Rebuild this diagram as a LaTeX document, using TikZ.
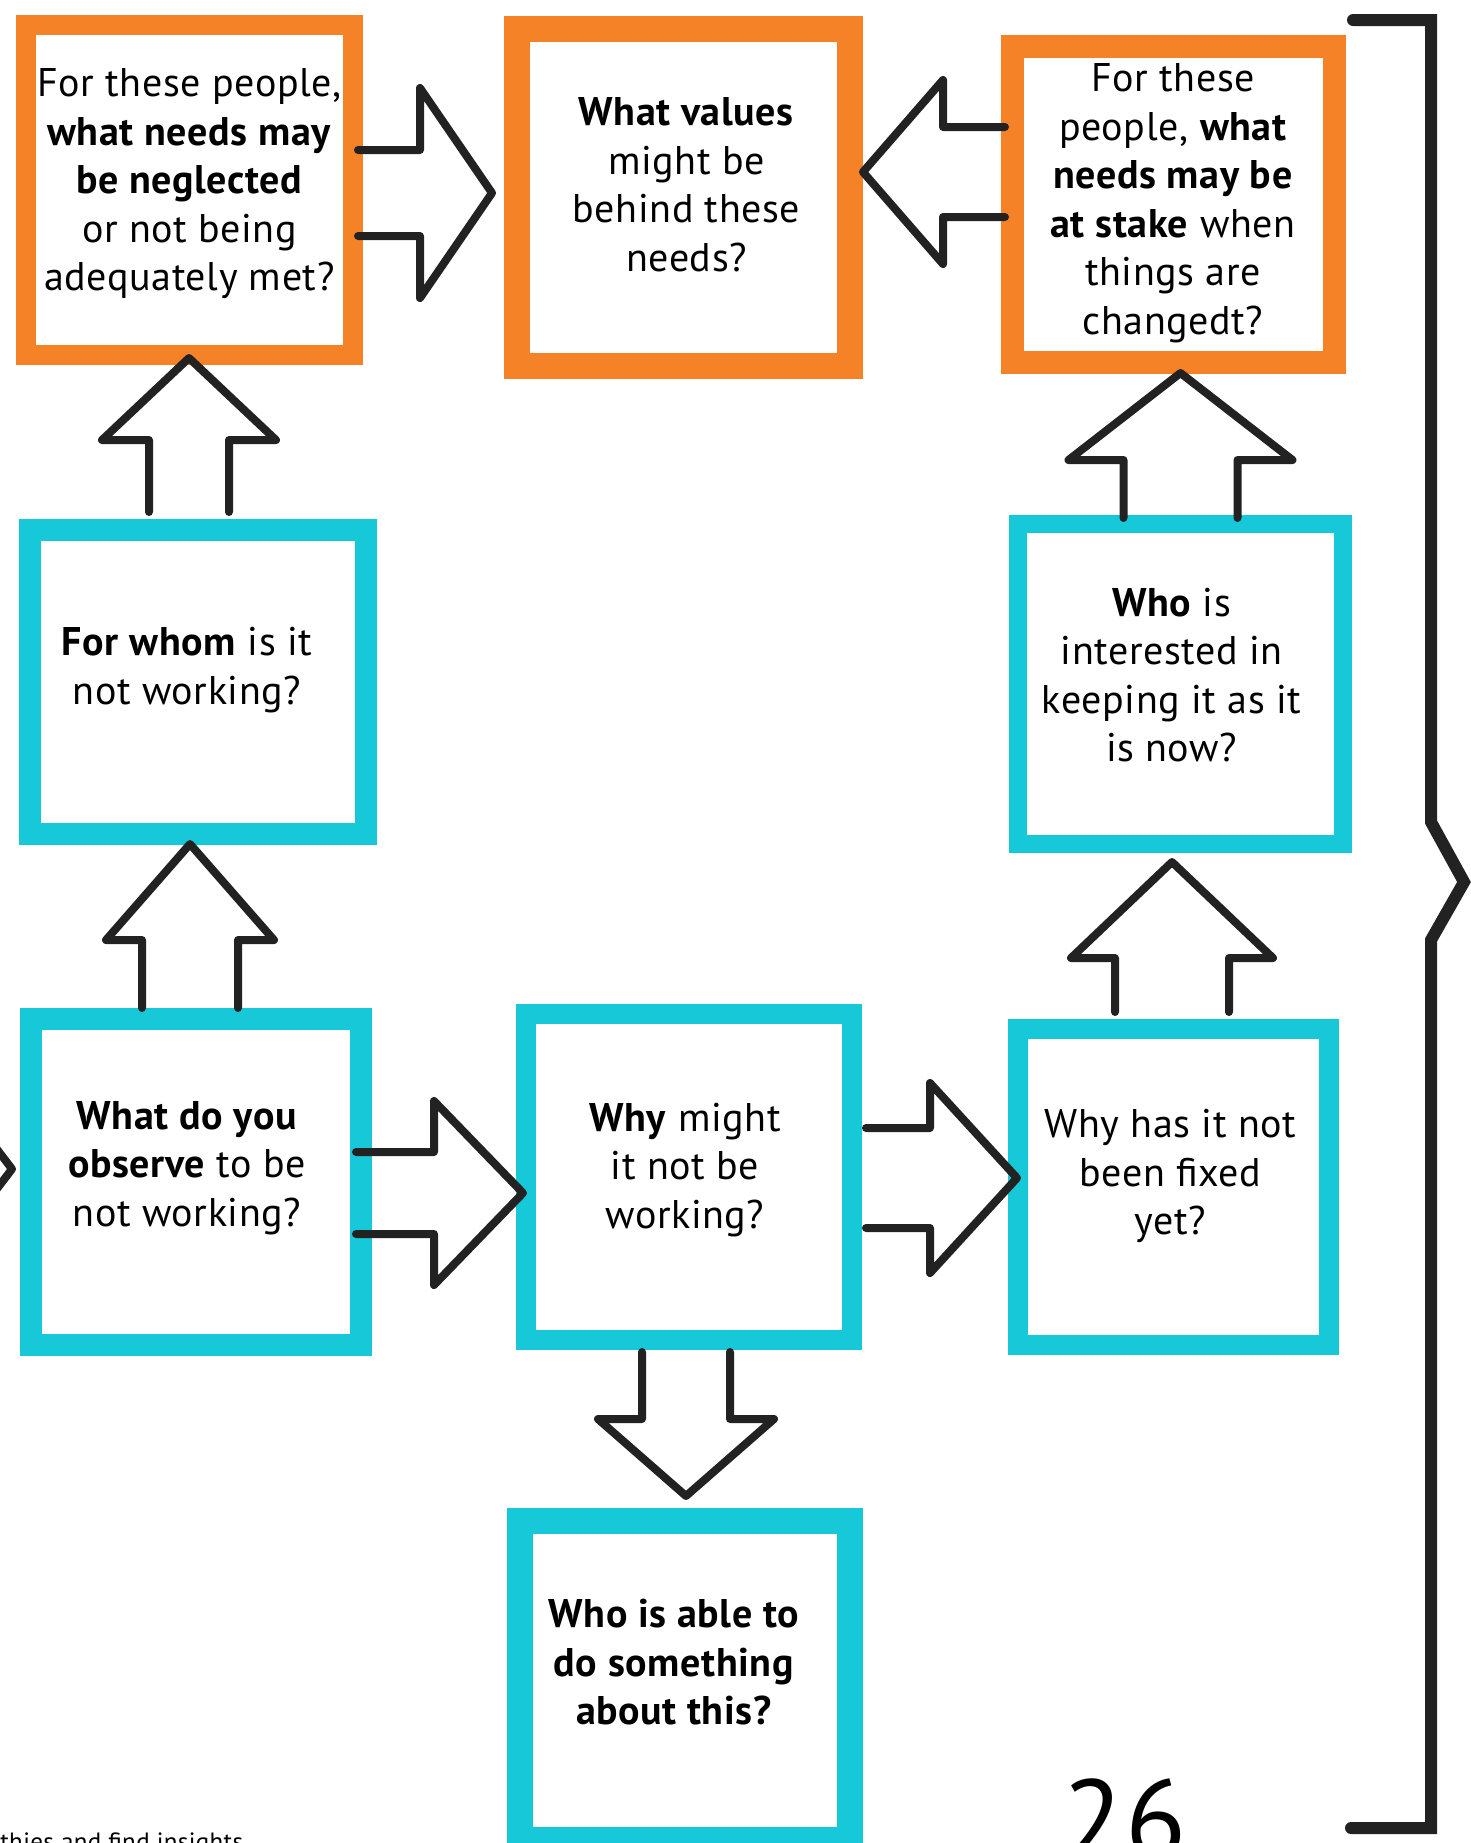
\documentclass[tikz,border=0pt]{standalone}
\usepackage{fontspec}
\setmainfont{PT Sans}[LetterSpace=1.5]
\usetikzlibrary{calc}
\definecolor{mkorange}{RGB}{246,130,40}
\definecolor{mkcyan}{RGB}{22,200,216}
\definecolor{ink}{RGB}{34,34,34}
\tikzset{
  box/.style={draw, rectangle, inner sep=0pt, outer sep=0pt, line join=miter},
  obox/.style={box, draw=mkorange},
  cbox/.style={box, draw=mkcyan},
  qtext/.style={align=center, font=\fontsize{20pt}{24.25pt}\selectfont, inner sep=0pt},
  arrowline/.style={draw=ink, line width=4pt, line join=round, line cap=round},
  pics/fatarr/.style args={#1/#2/#3/#4}{code={
    \draw[arrowline] (0,-#2) -- ({#1-#4},-#2) -- ({#1-#4},-#3) -- (#1,0) -- ({#1-#4},#3) -- ({#1-#4},#2) -- (0,#2);}}
}
\begin{document}
\begin{tikzpicture}[x=0.5pt,y=-0.5pt]
\useasboundingbox[fill=white] (0,0) rectangle (1471,1843);
\clip (0,0) rectangle (1471,1843);

% boxes
\node[obox, line width=10pt, minimum width=163.5pt, minimum height=165pt] (A) at (189.5,190) {};
\node[obox, line width=13pt, minimum width=166.5pt, minimum height=168.5pt] (B) at (683.5,197.5) {};
\node[obox, line width=11.5pt, minimum width=161pt, minimum height=158pt] (C) at (1173,204) {};
\node[cbox, line width=11pt, minimum width=168pt, minimum height=152pt] (D) at (198,682) {};
\node[cbox, line width=9pt, minimum width=162.5pt, minimum height=160pt] (E) at (1180.5,684) {};
\node[cbox, line width=11pt, minimum width=165pt, minimum height=163pt] (F) at (196,1182) {};
\node[cbox, line width=10pt, minimum width=163pt, minimum height=163pt] (G) at (689,1177) {};
\node[cbox, line width=10pt, minimum width=155.5pt, minimum height=158pt] (H) at (1173.5,1187) {};
\node[cbox, line width=13pt, minimum width=165pt, minimum height=159.5pt] (I) at (685,1680.5) {};

% texts
\node[qtext] (At) at ($(A)+(0,-6)$) {For these people,\\ \textbf{what needs may}\\ \textbf{be neglected}\\ or not being\\ adequately met?};
\node[qtext] (Bt) at ($(B)+(3,-13)$) {\textbf{What values}\\ might be\\ behind these\\ needs?};
\node[qtext] (Ct) at ($(C)+(0,-1)$) {For these\\ people, \textbf{what}\\ \textbf{needs may be}\\ \textbf{at stake} when\\ things are\\ changedt?};
\node[qtext] (Dt) at ($(D)+(-11,-12)$) {\textbf{For whom} is it\\ not working?};
\node[qtext] (Et) at ($(E)+(-9,-9)$) {\textbf{Who} is\\ interested in\\ keeping it as it\\ is now?};
\node[qtext] (Ft) at ($(F)+(-9,-14)$) {\textbf{What do you}\\ \textbf{observe} to be\\ not working?};
\node[qtext] (Gt) at ($(G)+(-4,-7)$) {\textbf{Why} might\\ it not be\\ working?};
\node[qtext] (Ht) at ($(H)+(-3,-11)$) {Why has it not\\ been fixed\\ yet?};
\node[qtext] (It) at ($(I)+(-11,-18)$) {\textbf{Who is able to}\\ \textbf{do something}\\ \textbf{about this?}};

% fat arrows between boxes
\pic at ($(A.east)+(5,3)$) {fatarr={134/43/105/72}};
\pic[rotate=180] at ($(C.west)+(-7,-32)$) {fatarr={142/45/92/80}};
\pic[rotate=90] at ($(D.north)+(-9,-18)$) {fatarr={154/40/87/82}};
\pic[rotate=90] at ($(F.north)+(-6,-11)$) {fatarr={164/48/84/96}};
\pic at ($(F.east)+(-5,11)$) {fatarr={167/41/92/89}};
\pic at ($(G.east)+(14,1)$) {fatarr={151/50/95/87}};
\pic[rotate=90] at ($(H.north)+(-1.5,-17)$) {fatarr={150/57/101/96}};
\pic[rotate=90] at ($(E.north)+(0,-6)$) {fatarr={145/57/112/87}};
\pic[rotate=-90] at ($(G.south)+(-3,12)$) {fatarr={144/44/88/77}};

% partial arrow tip at the left edge
\coordinate (lt1) at (-4,1148);
\coordinate (lt2) at (12,1169);
\coordinate (lt3) at (-4,1190);
\draw[arrowline] (lt1) -- (lt2) -- (lt3);

% bracket
\coordinate (br1) at (1353,20);
\coordinate (br2) at (1431,20);
\coordinate (br3) at (1431,822);
\coordinate (br4) at (1464,882);
\coordinate (br5) at (1431,940);
\coordinate (br6) at (1431,1828);
\coordinate (br7) at (1351,1828);
\draw[draw=ink, line width=6pt, line join=miter, line cap=round] (br1) -- (br2) -- (br3) -- (br4) -- (br5) -- (br6) -- (br7);

% page number and footer fragment (cut by the page edge, as in the reference)
\node[font=\fontsize{56pt}{64pt}\selectfont, anchor=base west, inner sep=0pt] (pnum) at (1062,1858) {26};
\node[font=\fontsize{12.5pt}{14pt}\selectfont, anchor=base west, inner sep=0pt] (foot) at (0,1850) {thies and find insights};
\end{tikzpicture}
\end{document}
